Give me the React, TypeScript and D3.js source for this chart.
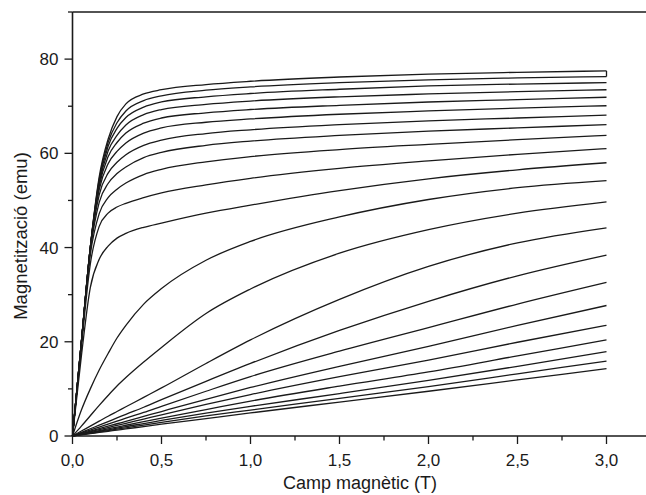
import React from "react";
import * as d3 from "d3";

const fieldT = [0, 0.05, 0.1, 0.15, 0.2, 0.25, 0.3, 0.4, 0.5, 0.75, 1.0, 1.5, 2.0, 2.5, 3.0];

const curves: number[][] = [
  [0, 20, 40, 55, 63, 67.8, 70.5, 72.6, 73.5, 74.6, 75.3, 76.2, 76.8, 77.2, 77.5],
  [0, 20, 40, 54.5, 62.3, 66.5, 69.0, 71.2, 72.2, 73.4, 74.1, 75.0, 75.6, 76.0, 76.3],
  [0, 20, 40, 54, 61.5, 65.3, 67.6, 69.8, 70.9, 72.0, 72.7, 73.6, 74.3, 74.7, 75.0],
  [0, 20, 40, 53.5, 60.5, 63.8, 66.0, 68.2, 69.3, 70.4, 71.1, 72.0, 72.6, 73.1, 73.5],
  [0, 20, 40, 53, 59.3, 62.3, 64.3, 66.4, 67.5, 68.6, 69.3, 70.2, 70.9, 71.4, 71.9],
  [0, 20, 40, 52.3, 57.8, 60.4, 62.2, 64.3, 65.4, 66.6, 67.3, 68.3, 69.0, 69.6, 70.1],
  [0, 20, 39.7, 51.2, 55.8, 58.1, 59.7, 61.7, 62.8, 64.2, 65.0, 66.1, 66.9, 67.5, 68.1],
  [0, 20, 39.3, 49.6, 53.6, 55.7, 57.1, 59.1, 60.2, 61.7, 62.6, 63.8, 64.7, 65.4, 66.1],
  [0, 19.8, 38.5, 47.2, 50.6, 52.4, 53.7, 55.5, 56.6, 58.2, 59.3, 60.8, 61.9, 62.9, 63.8],
  [0, 19, 36.5, 44.5, 47.3, 48.6, 49.4, 50.6, 51.6, 53.3, 54.7, 56.8, 58.4, 59.8, 61.0],
  [0, 17, 31.5, 37.5, 40.3, 42.0, 43.0, 44.3, 45.2, 47.3, 49.0, 52.1, 54.6, 56.5, 58.0],
  [0, 5.5, 10, 14, 17.5, 20.8, 23.5, 28, 31.3, 37.3, 41.3, 46.5, 50.2, 52.7, 54.2],
  [0, 2.1, 4.3, 6.5, 8.6, 10.6, 12.4, 15.7, 18.8, 26.0, 31.2, 38.8, 43.8, 47.3, 49.7],
  [0, 1.05, 2.1, 3.15, 4.2, 5.2, 6.2, 8.2, 10.2, 15.4, 20.4, 29.0, 36.0, 41.0, 44.2],
  [0, 0.77, 1.54, 2.3, 3.07, 3.83, 4.6, 6.1, 7.7, 11.6, 15.4, 22.4, 28.6, 34.0, 38.4],
  [0, 0.63, 1.26, 1.9, 2.52, 3.15, 3.8, 5.0, 6.3, 9.5, 12.6, 18.0, 23.0, 28.0, 32.6],
  [0, 0.52, 1.04, 1.56, 2.08, 2.6, 3.1, 4.15, 5.2, 7.8, 10.3, 14.8, 19.0, 23.5, 27.7],
  [0, 0.45, 0.9, 1.35, 1.8, 2.25, 2.7, 3.6, 4.5, 6.7, 8.8, 12.6, 16.1, 19.9, 23.5],
  [0, 0.38, 0.76, 1.14, 1.52, 1.9, 2.28, 3.04, 3.8, 5.6, 7.4, 10.6, 13.6, 17.0, 20.4],
  [0, 0.33, 0.66, 1.0, 1.32, 1.65, 2.0, 2.64, 3.3, 4.85, 6.3, 9.0, 11.8, 14.8, 17.9],
  [0, 0.29, 0.58, 0.87, 1.16, 1.45, 1.74, 2.32, 2.9, 4.25, 5.5, 8.0, 10.5, 13.2, 15.9],
  [0, 0.25, 0.5, 0.75, 1.0, 1.25, 1.5, 2.0, 2.5, 3.7, 4.9, 7.2, 9.5, 11.9, 14.3],
];

// closing segment at the end of the two top curves
const endConnector = [
  [3.0, 77.5],
  [3.0, 76.3],
];

const xMajorTicks = [0, 0.5, 1.0, 1.5, 2.0, 2.5, 3.0];
const xMinorTicks = [0.25, 0.75, 1.25, 1.75, 2.25, 2.75, 3.25];
const yMajorTicks = [0, 20, 40, 60, 80];
const yMinorTicks = [10, 30, 50, 70, 90];

const xTitle = "Camp magnètic (T)";
const yTitle = "Magnetització (emu)";

export default function App() {
  const W = 646;
  const H = 495;
  const left = 72.5;
  const top = 12;
  const bottom = 436;
  const x = d3.scaleLinear().domain([0, 3.35]).range([left, left + 3.35 * 178]);
  const y = d3.scaleLinear().domain([0, 90]).range([bottom, top]);
  const line = d3
    .line<[number, number]>()
    .x((d) => x(d[0]))
    .y((d) => y(d[1]))
    .curve(d3.curveMonotoneX);
  const straight = d3
    .line<number[]>()
    .x((d) => x(d[0]))
    .y((d) => y(d[1]));
  const fmt = (v: number) => v.toFixed(1).replace(".", ",");
  const font = "Arial, 'Liberation Sans', sans-serif";
  const ink = "#1a1a1a";

  return (
    <svg
      width={W}
      height={H}
      style={{ position: "absolute", left: 0, top: 0, background: "#fff" }}
    >
      <rect x={0} y={0} width={W} height={H} fill="#fff" />
      <g fill="none" stroke={ink} strokeWidth={1.3} strokeLinejoin="round">
        {curves.map((c, i) => (
          <path key={i} d={line(c.map((v, j) => [fieldT[j], v]) as [number, number][]) || ""} />
        ))}
        <path d={straight(endConnector) || ""} />
      </g>
      {/* frame */}
      <g stroke={ink} strokeWidth={1.6} fill="none">
        <line x1={x(0)} x2={x(0)} y1={top} y2={bottom} />
        <line x1={x(0)} x2={W + 20} y1={bottom} y2={bottom} />
        <line x1={x(0)} x2={W + 20} y1={top} y2={top} />
      </g>
      {/* ticks */}
      <g stroke={ink} strokeWidth={1.3}>
        {yMajorTicks.map((t) => (
          <line key={"ym" + t} x1={x(0) - 8} x2={x(0)} y1={y(t)} y2={y(t)} />
        ))}
        {yMinorTicks.map((t) => (
          <line key={"yn" + t} x1={x(0) - 4.5} x2={x(0)} y1={y(t)} y2={y(t)} />
        ))}
        {xMajorTicks.map((t) => (
          <line key={"xm" + t} x1={x(t)} x2={x(t)} y1={bottom} y2={bottom + 8} />
        ))}
        {xMinorTicks.map((t) => (
          <line key={"xn" + t} x1={x(t)} x2={x(t)} y1={bottom} y2={bottom + 4.5} />
        ))}
      </g>
      <g fontFamily={font} fontSize={17} fill={ink}>
        {yMajorTicks.map((t) => (
          <text key={"yl" + t} x={x(0) - 14} y={y(t)} dy="0.36em" textAnchor="end">
            {t}
          </text>
        ))}
        {xMajorTicks.map((t) => (
          <text key={"xl" + t} x={x(t)} y={bottom + 30} textAnchor="middle">
            {fmt(t)}
          </text>
        ))}
      </g>
      <text
        x={360}
        y={489}
        textAnchor="middle"
        fontFamily={font}
        fontSize={18}
        fill={ink}
      >
        {xTitle}
      </text>
      <text
        transform={`translate(27,236) rotate(-90)`}
        textAnchor="middle"
        fontFamily={font}
        fontSize={18.5}
        fill={ink}
      >
        {yTitle}
      </text>
    </svg>
  );
}
